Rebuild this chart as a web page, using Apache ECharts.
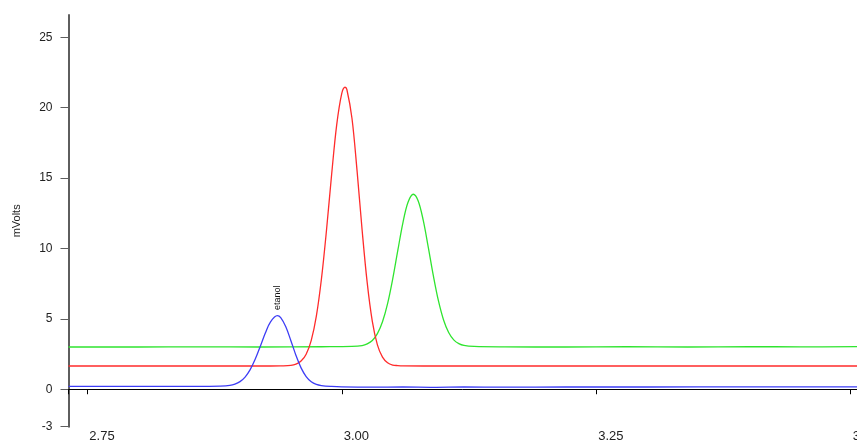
<!DOCTYPE html>
<html>
<head>
<meta charset="utf-8">
<script src="https://cdn.jsdelivr.net/npm/echarts@6/dist/echarts.min.js"></script>
<style>
  html, body { margin: 0; padding: 0; background: #fff; }
  #chart { width: 857px; height: 440px; }
</style>
</head>
<body>
<div id="chart"></div>
<script>
// Retention time window (min) and detector range (mV)
const timeMin = 2.7315;
const timeMax = 3.5062;
const voltMin = -2.66;
const voltMax = 26.58;

// Axis ticks and their labels
const timeTicks = [2.75, 3.00, 3.25, 3.50];
const timeTickLabels = ['2.75', '3.00', '3.25', '3.50'];
const voltTicks = [-2.66, 0, 5, 10, 15, 20, 25];
const voltTickLabels = ['-3', '0', '5', '10', '15', '20', '25'];

// Trace 1 (blue): ethanol peak
const blueTrace = [
  [2.7315, 0.21], [2.78, 0.21], [2.82, 0.20], [2.85, 0.21], [2.87, 0.21],
  [2.88, 0.22], [2.89, 0.27], [2.895, 0.36], [2.90, 0.54], [2.905, 0.86],
  [2.91, 1.39], [2.915, 2.14], [2.92, 3.06], [2.925, 4.01], [2.93, 4.79],
  [2.9367, 5.23], [2.94, 5.09], [2.945, 4.44], [2.95, 3.45], [2.955, 2.40],
  [2.96, 1.52], [2.965, 0.90], [2.97, 0.53], [2.975, 0.34], [2.98, 0.26],
  [2.99, 0.20], [3.00, 0.17], [3.03, 0.15], [3.06, 0.16], [3.09, 0.14],
  [3.12, 0.16], [3.16, 0.15], [3.22, 0.16], [3.30, 0.16], [3.40, 0.17],
  [3.5062, 0.17]
];
const bluePeakIndex = 15;
const bluePeakName = 'etanol';

// Trace 2 (red)
const redTrace = [
  [2.7315, 1.65], [2.80, 1.65], [2.88, 1.65], [2.93, 1.65], [2.94, 1.66],
  [2.95, 1.69], [2.955, 1.78], [2.96, 2.00], [2.965, 2.49], [2.97, 3.47],
  [2.975, 5.19], [2.98, 7.83], [2.985, 11.31], [2.99, 15.23], [2.995, 18.78],
  [3.00, 21.02], [3.0032, 21.45], [3.005, 21.29], [3.01, 19.25], [3.015, 15.53],
  [3.02, 11.29], [3.025, 7.55], [3.03, 4.82], [3.035, 3.15], [3.04, 2.28],
  [3.045, 1.88], [3.05, 1.72], [3.055, 1.68], [3.06, 1.66], [3.10, 1.65],
  [3.20, 1.65], [3.30, 1.65], [3.40, 1.65], [3.5062, 1.65]
];

// Trace 3 (green)
const greenTrace = [
  [2.7315, 3.00], [2.80, 3.00], [2.86, 3.01], [2.92, 3.00], [2.98, 3.02],
  [3.01, 3.04], [3.02, 3.10], [3.025, 3.22], [3.03, 3.46], [3.035, 3.95],
  [3.04, 4.79], [3.045, 6.08], [3.05, 7.82], [3.055, 9.84], [3.06, 11.80],
  [3.065, 13.27], [3.0703, 13.85], [3.075, 13.39], [3.08, 12.01], [3.085, 10.08],
  [3.09, 8.05], [3.095, 6.27], [3.10, 4.92], [3.105, 4.03], [3.11, 3.51],
  [3.115, 3.24], [3.12, 3.11], [3.13, 3.04], [3.16, 3.01], [3.22, 3.00],
  [3.28, 3.02], [3.34, 3.00], [3.40, 3.03], [3.45, 3.01], [3.5062, 3.03]
];

const chart = echarts.init(document.getElementById('chart'), null, { renderer: 'canvas' });

const lineBase = {
  type: 'line',
  showSymbol: false,
  smooth: 0.35,
  animation: false,
  silent: true,
  clip: true
};

chart.setOption({
  animation: false,
  backgroundColor: '#ffffff',
  textStyle: { fontFamily: 'Arial, "Liberation Sans", sans-serif' },
  grid: {
    left: 68.5, right: 0, top: 15, bottom: 13.3,
    containLabel: false,
    outerBoundsMode: 'none'
  },
  xAxis: {
    type: 'value',
    min: timeMin,
    max: timeMax,
    splitLine: { show: false },
    axisLine: { show: true, lineStyle: { color: '#000', width: 1 } },
    axisTick: {
      show: true,
      length: 5,
      lineStyle: { color: '#000', width: 1 },
      customValues: [timeMin].concat(timeTicks)
    },
    axisLabel: {
      show: true,
      customValues: timeTicks,
      formatter: function (v) {
        const i = timeTicks.findIndex(t => Math.abs(t - v) < 1e-6);
        return i >= 0 ? timeTickLabels[i] : '';
      },
      align: 'left',
      verticalAlign: 'top',
      padding: [0, 0, 0, 2],
      margin: 3,
      fontSize: 13,
      color: '#222',
      showMinLabel: true,
      showMaxLabel: true,
      hideOverlap: false
    }
  },
  yAxis: {
    type: 'value',
    min: voltMin,
    max: voltMax,
    name: 'mVolts',
    nameLocation: 'middle',
    nameRotate: 90,
    nameGap: 46,
    nameTextStyle: { fontSize: 11, color: '#222' },
    splitLine: { show: false },
    axisLine: { show: true, lineStyle: { color: '#5e5e5e', width: 2 } },
    axisTick: {
      show: true,
      length: 8,
      lineStyle: { color: '#5e5e5e', width: 1 },
      customValues: voltTicks
    },
    axisLabel: {
      show: true,
      customValues: voltTicks,
      formatter: function (v) {
        const i = voltTicks.findIndex(t => Math.abs(t - v) < 1e-6);
        return i >= 0 ? voltTickLabels[i] : '';
      },
      margin: 16,
      fontSize: 12,
      color: '#222'
    }
  },
  series: [
    Object.assign({}, lineBase, {
      name: 'green',
      data: greenTrace,
      z: 2,
      lineStyle: { color: '#2fe42f', width: 1.3 }
    }),
    Object.assign({}, lineBase, {
      name: 'red',
      data: redTrace,
      z: 3,
      lineStyle: { color: '#ff2b2b', width: 1.3 }
    }),
    Object.assign({}, lineBase, {
      name: 'blue',
      data: blueTrace,
      z: 4,
      lineStyle: { color: '#3d3df5', width: 1.3 },
      markPoint: {
        symbol: 'circle',
        symbolSize: 1,
        itemStyle: { color: 'rgba(0,0,0,0)' },
        animation: false,
        silent: true,
        label: {
          show: true,
          position: 'top',
          distance: 5,
          rotate: 90,
          align: 'left',
          verticalAlign: 'middle',
          formatter: bluePeakName,
          fontSize: 9,
          color: '#111'
        },
        data: [{ coord: blueTrace[bluePeakIndex] }]
      }
    })
  ]
});
</script>
</body>
</html>
